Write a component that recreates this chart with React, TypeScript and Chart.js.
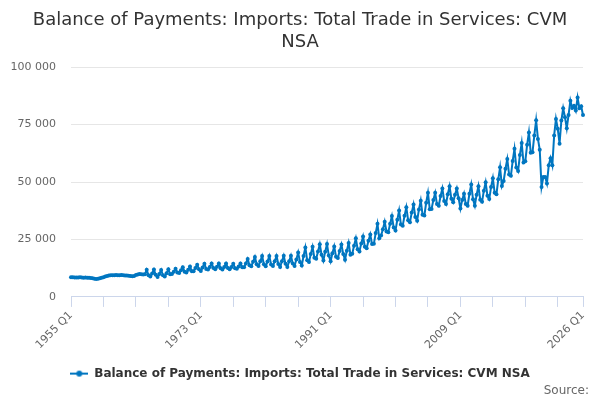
import React, { useEffect, useRef } from 'react';
import Chart from 'chart.js/auto';

// quarterly values, £ million, 1955 Q1 .. 2026 Q1
const imports1955to1964 = [
    8600, 8550, 8500, 8450, 8500, 8550, 8500, 8400, 8450, 8400, 8300, 8200,
    8100, 7900, 7800, 7900, 8100, 8300, 8600, 8900, 9100, 9300, 9400, 9400,
    9400, 9500, 9400, 9400, 9500, 9400, 9300, 9300, 9200, 9100, 9000, 9100,
    9500, 9800, 10000, 9900
];
const imports1965to1974 = [
    9800, 9900, 11800, 9400, 8900, 10200, 11900, 9600, 8700, 10000, 11700, 9400,
    8900, 10300, 12000, 9900, 10000, 11000, 12300, 10600, 10400, 11600, 12900, 11000,
    10600, 11800, 13200, 11200, 11200, 12600, 14000, 12000, 11300, 12800, 14400, 12200,
    11900, 13000, 14600, 12600
];
const imports1975to1984 = [
    12000, 13100, 14600, 12500, 11900, 13000, 14600, 12600, 12100, 13000, 14400, 12500,
    12300, 13200, 14600, 12900, 12900, 14600, 16500, 13800, 13400, 15300, 17400, 14200,
    13500, 15500, 17800, 14200, 13400, 15400, 17800, 14100, 13500, 15500, 17800, 14300,
    13000, 15500, 17900, 14400
];
const imports1985to1994 = [
    13000, 15500, 17900, 14500, 13500, 16300, 19300, 15200, 13700, 17800, 21500, 16000,
    15200, 18700, 21800, 17000, 16600, 19800, 22900, 18400, 15900, 19700, 23000, 18000,
    15500, 19000, 22000, 17500, 16900, 20000, 22800, 18700, 16200, 20100, 23500, 18400,
    18800, 22300, 25500, 20800
];
const imports1995to2004 = [
    19800, 23300, 26300, 21800, 21200, 24500, 27200, 23000, 23100, 27800, 31800, 25500,
    26700, 29500, 32700, 28500, 28100, 31900, 35200, 30200, 28900, 33600, 37600, 31500,
    31000, 35300, 39000, 33400, 32500, 36700, 40200, 34800, 33200, 38100, 41900, 35800,
    35400, 41000, 45300, 38200
];
const imports2005to2014 = [
    38300, 42200, 45300, 40400, 39700, 43900, 47200, 41800, 40400, 44700, 48200, 42700,
    41200, 44500, 47200, 43000, 38500, 42200, 44900, 40400, 39700, 44900, 48900, 42500,
    39700, 44500, 48200, 42300, 41400, 46200, 49900, 44000, 42600, 47800, 51700, 45300,
    44700, 51200, 56400, 48300
];
const imports2015to2024 = [
    50500, 55800, 60000, 53300, 52700, 59200, 64500, 56300, 54800, 61800, 67000, 58500,
    59100, 66200, 71600, 62800, 63000, 70300, 76900, 68800, 64100, 47900, 52200, 52200,
    49400, 57300, 60400, 57300, 70300, 77500, 73200, 66700, 76800, 82100, 78200, 73400,
    79200, 85400, 82200, 83200
];
const imports2025to2026 = [81100, 86800, 82100, 83000, 79200];

const firstYear = 1955;
const shownLabels = ['1955 Q1', '1973 Q1', '1991 Q1', '2009 Q1', '2026 Q1'];
const yTicks = [0, 25000, 50000, 75000, 100000];

const seriesName = 'Balance of Payments: Imports: Total Trade in Services: CVM NSA';
const values = [
    ...imports1955to1964, ...imports1965to1974, ...imports1975to1984, ...imports1985to1994,
    ...imports1995to2004, ...imports2005to2014, ...imports2015to2024, ...imports2025to2026
];
const labels = values.map((_, i) => `${firstYear + Math.floor(i / 4)} Q${(i % 4) + 1}`);

const BLUE = '#0076c0';
const FONT = 'DejaVu Sans';

function legendSymbol() {
    const c = document.createElement('canvas');
    c.width = 18;
    c.height = 8;
    const g = c.getContext('2d')!;
    g.strokeStyle = BLUE;
    g.lineWidth = 2;
    g.beginPath();
    g.moveTo(0, 4);
    g.lineTo(18, 4);
    g.stroke();
    g.fillStyle = BLUE;
    g.beginPath();
    g.arc(9, 4, 3, 0, Math.PI * 2);
    g.fill();
    return c;
}

export default function App() {
    const chartRef = useRef<HTMLCanvasElement>(null);
    const chartInstance = useRef<Chart | null>(null);

    useEffect(() => {
        if (!chartRef.current) return;
        if (chartInstance.current) chartInstance.current.destroy();

        const symbol = legendSymbol();
        const lastIndex = labels.length - 1;

        chartInstance.current = new Chart(chartRef.current, {
            type: 'line',
            data: {
                labels,
                datasets: [{
                    label: seriesName,
                    data: values,
                    borderColor: BLUE,
                    backgroundColor: BLUE,
                    borderWidth: 2,
                    pointRadius: 2,
                    pointBorderWidth: 0,
                    pointBackgroundColor: BLUE,
                    pointStyle: 'circle',
                    tension: 0
                }]
            },
            options: {
                animation: false,
                responsive: false,
                layout: { padding: { left: 11, right: 11, bottom: 2 } },
                plugins: {
                    title: {
                        display: true,
                        text: ['Balance of Payments: Imports: Total Trade in Services: CVM', 'NSA'],
                        color: '#333333',
                        font: { family: FONT, size: 18, weight: 'normal' },
                        lineHeight: 1.22,
                        padding: { top: 10, bottom: 14 }
                    },
                    subtitle: {
                        display: true,
                        position: 'bottom',
                        align: 'end',
                        text: 'Source:',
                        color: '#666666',
                        font: { family: FONT, size: 12, weight: 'normal' },
                        padding: { top: -6, bottom: 0 }
                    },
                    legend: {
                        position: 'bottom',
                        labels: {
                            usePointStyle: true,
                            pointStyle: symbol,
                            pointStyleWidth: 18,
                            boxHeight: 8,
                            color: '#333333',
                            font: { family: FONT, size: 12, weight: 'bold' },
                            padding: 8,
                            generateLabels: () => [{
                                text: seriesName,
                                pointStyle: symbol,
                                fillStyle: BLUE,
                                strokeStyle: BLUE,
                                lineWidth: 0,
                                hidden: false,
                                datasetIndex: 0,
                                fontColor: '#333333'
                            }]
                        }
                    },
                    tooltip: { enabled: false }
                },
                scales: {
                    x: {
                        type: 'category',
                        offset: false,
                        afterFit: (scale: any) => {
                            scale.paddingLeft = 0;
                            scale.paddingRight = 17;
                            scale.height += 6;
                        },
                        border: { display: true, color: '#ccd6eb', width: 1 },
                        grid: {
                            display: true,
                            drawOnChartArea: false,
                            drawTicks: true,
                            tickLength: 10,
                            color: (ctx: any) =>
                                ctx.index % 18 === 0 || ctx.index === lastIndex ? '#ccd6eb' : 'rgba(0,0,0,0)'
                        },
                        ticks: {
                            autoSkip: false,
                            minRotation: 45,
                            maxRotation: 45,
                            padding: 2,
                            color: '#666666',
                            font: { family: FONT, size: 11 },
                            callback: (_v: any, i: number) => shownLabels.includes(labels[i]) ? labels[i] : ''
                        }
                    },
                    y: {
                        min: 0,
                        max: 100000,
                        afterBuildTicks: (scale: any) => {
                            scale.ticks = yTicks.map(v => ({ value: v }));
                        },
                        afterFit: (scale: any) => {
                            scale.width = 60;
                        },
                        border: { display: false },
                        grid: { color: '#e6e6e6', drawTicks: false },
                        ticks: {
                            padding: 15,
                            color: '#666666',
                            font: { family: FONT, size: 11 },
                            callback: (v: any) => String(v).replace(/\B(?=(\d{3})+(?!\d))/g, ' ')
                        }
                    }
                }
            } as any
        });

        return () => {
            if (chartInstance.current) {
                chartInstance.current.destroy();
                chartInstance.current = null;
            }
        };
    }, []);

    return (
        <div style={{ position: 'absolute', left: 0, top: 0, width: 600, height: 400, background: '#fff' }}>
            <canvas ref={chartRef} width={600} height={400} style={{ width: 600, height: 400 }}></canvas>
        </div>
    );
}
